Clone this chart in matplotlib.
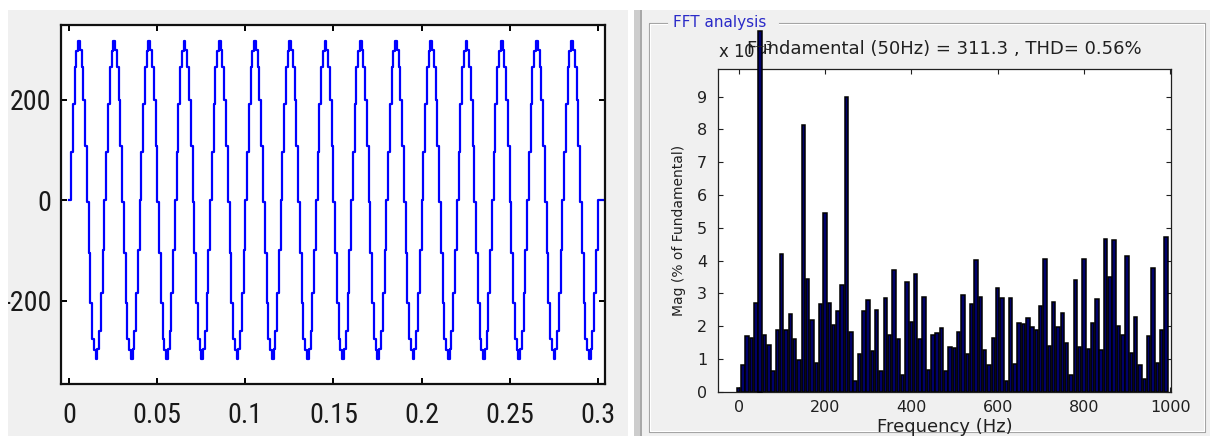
import numpy as np
import matplotlib
matplotlib.use("Agg")
import matplotlib.pyplot as plt
from matplotlib.patches import Rectangle
from matplotlib.lines import Line2D
from matplotlib import font_manager

plt.rcParams['axes.unicode_minus'] = False

# ---------------- data ----------------
# one period (20 ms) of the sampled / stepped output voltage, 1 ms per step
cycle_levels = [0, 96, 192, 265, 296, 316, 298, 265, 199, 107,
                -3, -105, -205, -275, -298, -316, -296, -260, -185, -98]
n_cycles = 15
sample_time = 0.001
end_level = 0
end_time = 0.3033

left_xticks = [0, 0.05, 0.1, 0.15, 0.2, 0.25, 0.3]
left_xticklabels = ['0', '0.05', '0.1', '0.15', '0.2', '0.25', '0.3']
left_yticks = [-200, 0, 200]
left_yticklabels = ['-200', '0', '200']

# FFT spectrum (Mag, % of fundamental, x 1e-3), 10 Hz bins
fft_freqs = np.arange(0, 1000, 10)
fft_mags = [0.1, 0.8, 1.7, 1.65, 2.7, 11.0, 1.73, 1.43, 0.62, 1.88,
            4.2, 1.88, 2.36, 1.6, 0.96, 8.13, 3.43, 2.2, 0.88, 2.66,
            5.46, 2.69, 2.03, 2.47, 3.24, 8.98, 1.83, 0.33, 1.15, 2.46,
            2.79, 1.25, 2.5, 0.62, 2.87, 1.73, 3.71, 1.6, 0.51, 3.35,
            2.13, 3.6, 1.6, 2.9, 0.65, 1.73, 1.8, 1.95, 0.62, 1.37,
            1.32, 1.81, 2.95, 1.15, 2.66, 4.01, 2.88, 1.27, 0.81, 1.63,
            3.17, 2.85, 0.34, 2.85, 0.85, 2.1, 2.05, 2.26, 1.96, 1.88,
            2.62, 4.04, 1.4, 2.72, 1.96, 2.39, 1.47, 0.52, 3.42, 1.37,
            4.05, 1.29, 2.1, 2.82, 1.26, 4.67, 3.5, 4.64, 2.0, 1.74,
            4.13, 1.19, 2.29, 0.81, 0.38, 1.71, 3.76, 0.89, 1.89, 4.73]
fundamental_freq = 50
right_xticks = [0, 200, 400, 600, 800, 1000]
right_yticks = list(range(10))
fft_title = 'Fundamental (50Hz) = 311.3 , THD= 0.56%'

# ---------------- figure ----------------
W, H = 1210, 436
fig = plt.figure(figsize=(W / 100, H / 100), dpi=100)
fig.patch.set_facecolor('white')

def rect_px(x0, y0, x1, y1, **kw):
    r = Rectangle((x0 / W, 1 - y1 / H), (x1 - x0) / W, (y1 - y0) / H,
                  transform=fig.transFigure, **kw)
    fig.add_artist(r)
    return r

def line_px(xs, ys, **kw):
    l = Line2D([x / W for x in xs], [1 - y / H for y in ys],
               transform=fig.transFigure, **kw)
    fig.add_artist(l)
    return l

# pick a narrow font for the left panel if one is installed
names = sorted({f.name for f in font_manager.fontManager.ttflist})
narrow_family = 'Liberation Sans'
for cand in ['Liberation Sans Narrow', 'Arial Narrow', 'Roboto Condensed',
             'Open Sans Condensed', 'DejaVu Sans Condensed', 'Noto Sans Condensed']:
    if cand in names:
        narrow_family = cand
        break
# choose the size so that "0.05" is about 49 px wide (max 23 pt)
renderer = fig.canvas.get_renderer()
probe = fig.text(0, 0, '0.05', family=narrow_family, fontsize=20)
w20 = probe.get_window_extent(renderer).width
probe.remove()
left_fs = min(23.0, 20.0 * 49.0 / w20)

# background panels
rect_px(8, 10, 628, 436, facecolor='#f0f0f0', edgecolor='none', zorder=-10)
rect_px(634, 10, 640, 436, facecolor='#cdcdcd', edgecolor='none', zorder=-10)
rect_px(640, 10, 642, 436, facecolor='#a8a8a8', edgecolor='none', zorder=-10)
rect_px(642, 10, 1210, 436, facecolor='#f0f0f0', edgecolor='none', zorder=-10)

# group-box frame
line_px([667, 649, 649, 1205, 1205, 779], [23, 23, 432, 432, 23, 23],
        color='#a0a0a0', lw=0.8, zorder=-5)
line_px([667, 650, 650, 1204, 1204, 779], [24, 24, 431, 431, 24, 24],
        color='#ffffff', lw=0.8, zorder=-5)
fig.text(673 / W, 1 - 22 / H, 'FFT analysis', color='#2a2ac8', fontsize=11,
         family='DejaVu Sans', ha='left', va='center')

# ---------------- left: waveform ----------------
axL = fig.add_axes([61.3 / W, 1 - 384 / H, (604.7 - 61.3) / W, (384 - 25) / H])
wave = list(np.tile(cycle_levels, n_cycles)) + [end_level, end_level]
t = list(np.arange(len(cycle_levels) * n_cycles + 1) * sample_time) + [end_time]
axL.step(t, wave, where='post', color='#0000ff', lw=1.6)
axL.set_xlim(-0.0045, 0.304)
axL.set_ylim(-365, 348)
axL.set_xticks(left_xticks)
axL.set_xticklabels(left_xticklabels)
axL.set_yticks(left_yticks)
axL.set_yticklabels(left_yticklabels)
for lab in axL.get_xticklabels() + axL.get_yticklabels():
    lab.set_family(narrow_family)
    lab.set_fontsize(left_fs)
    lab.set_color('#1a1a1a')
axL.tick_params(direction='in', length=4.5, width=1.4, top=True, right=True,
                pad=13)
axL.tick_params(axis='y', pad=7)
for s in axL.spines.values():
    s.set_linewidth(1.6)
    s.set_color('#101010')

# white crop strip on far left (screenshot edge)
rect_px(0, 0, 8, 436, facecolor='white', edgecolor='none', zorder=10)

# ---------------- right: FFT bars ----------------
axR = fig.add_axes([718.3 / W, 1 - 391.7 / H, (1170.7 - 718.3) / W, (391.7 - 69) / H])
bars = axR.bar(fft_freqs, fft_mags, width=8, color='#00006a',
               edgecolor='black', linewidth=1.1, zorder=2)
for f, b in zip(fft_freqs, bars):
    if f == fundamental_freq:
        b.set_clip_on(False)
        b.set_zorder(6)
axR.set_xlim(-47, 1001)
axR.set_ylim(0, 9.84)
axR.set_xticks(right_xticks)
axR.set_yticks(right_yticks)
axR.tick_params(direction='in', length=3.6, width=0.8, top=True, right=True,
                labelsize=11.5, colors='#202020', pad=6)
axR.tick_params(axis='y', pad=8)
for s in axR.spines.values():
    s.set_linewidth(0.9)
    s.set_color('#202020')
axR.set_xlabel('Frequency (Hz)', fontsize=13, color='#202020', labelpad=2)
axR.set_ylabel('Mag (% of Fundamental)', fontsize=10, color='#202020', labelpad=8)
fig.text(718 / W, 1 - 58 / H, 'x 10$^{-3}$', fontsize=12, color='#202020',
         ha='left', va='baseline', zorder=1)
axR.text(0.5, (391.7 - 49) / (391.7 - 69), fft_title, transform=axR.transAxes,
         fontsize=13, color='#202020', ha='center', va='center',
         clip_on=False, zorder=3)

fig.savefig('out.png', dpi=100, facecolor=fig.get_facecolor())
